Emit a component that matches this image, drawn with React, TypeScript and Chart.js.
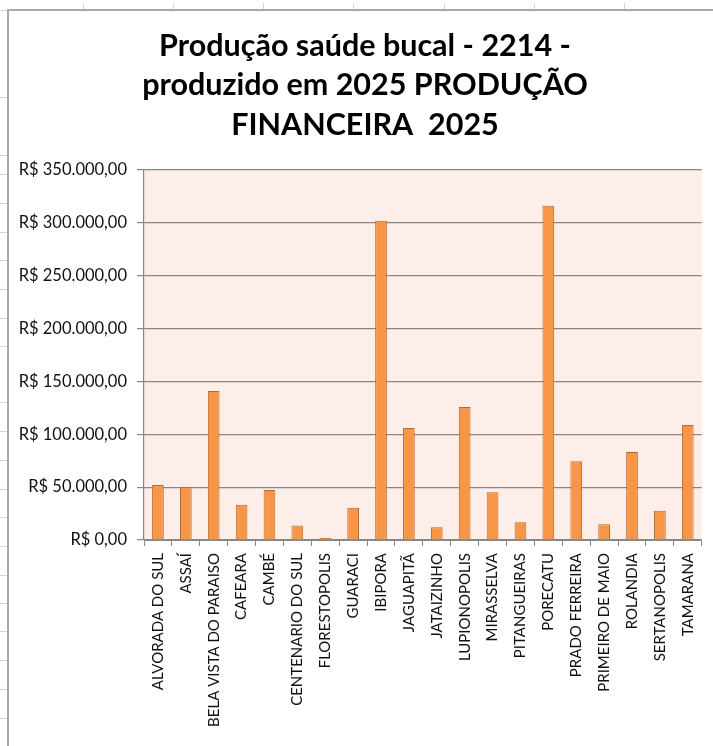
import React, { useEffect, useRef } from 'react';
import { Chart, registerables } from 'chart.js';

Chart.register(...registerables);

const titleLines = ['Produção saúde bucal - 2214 -', 'produzido em 2025 PRODUÇÃO', 'FINANCEIRA  2025'];

const categories = [
  'ALVORADA DO SUL', 'ASSAÍ', 'BELA VISTA DO PARAISO', 'CAFEARA', 'CAMBÉ',
  'CENTENARIO DO SUL', 'FLORESTOPOLIS', 'GUARACI', 'IBIPORA', 'JAGUAPITÃ',
  'JATAIZINHO', 'LUPIONOPOLIS', 'MIRASSELVA', 'PITANGUEIRAS', 'PORECATU',
  'PRADO FERREIRA', 'PRIMEIRO DE MAIO', 'ROLANDIA', 'SERTANOPOLIS', 'TAMARANA',
];

const values = [
  52000, 50000, 141000, 33400, 47300,
  13600, 2000, 30600, 302000, 105900,
  12000, 125800, 45100, 16700, 316200,
  74400, 14800, 83200, 27700, 108800,
];

const yMin = 0;
const yMax = 350000;
const yStep = 50000;

function formatBRL(v: number): string {
  const s = Math.round(v).toString().replace(/\B(?=(\d{3})+(?!\d))/g, '.');
  return 'R$ ' + s + ',00';
}

const plotBg = {
  id: 'plotBg',
  afterLayout(chart: any) {
    // widen the y-axis label clip area to the canvas edge
    if (chart.scales.y) chart.scales.y.left = 0;
  },
  beforeDraw(chart: any) {
    const { ctx, chartArea } = chart;
    ctx.save();
    ctx.fillStyle = '#FDEEEA';
    ctx.fillRect(chartArea.left, chartArea.top, chartArea.width, chartArea.height);
    ctx.restore();
  },
};

const leftRows = [97, 155, 174, 203, 232, 260, 289, 318, 346, 402, 431, 460, 489, 517, 546, 575, 603, 631, 660, 689, 718];
const topCols = [83, 173, 263, 353, 444, 534, 624];

export default function App() {
  const ref = useRef<HTMLCanvasElement>(null);

  useEffect(() => {
    if (!ref.current) return;
    const gridColor = '#878787';
    const chart = new Chart(ref.current, {
      type: 'bar',
      data: {
        labels: categories,
        datasets: [
          {
            data: values,
            backgroundColor: '#F79646',
            borderColor: '#B8692B',
            borderWidth: 1,
            barPercentage: 0.42,
            categoryPercentage: 1,
          },
        ],
      },
      options: {
        responsive: false,
        animation: false,
        devicePixelRatio: 1,
        layout: { padding: { left: 17, right: 9, top: 0, bottom: 0 } },
        plugins: {
          legend: { display: false },
          tooltip: { enabled: false },
          title: {
            display: true,
            text: titleLines,
            color: '#000',
            font: { family: 'Lato', size: 30.5, weight: 'bold', lineHeight: 1.3 },
            padding: { top: 15, bottom: 25 },
          },
        },
        scales: {
          x: {
            grid: { display: true, drawOnChartArea: false, offset: true, tickLength: 6, color: gridColor },
            border: { color: gridColor },
            ticks: {
              autoSkip: false,
              minRotation: 90,
              maxRotation: 90,
              padding: 7,
              color: '#111',
              font: { family: 'Lato', size: 15 },
            },
            afterFit(scale: any) {
              scale.height = 206;
            },
          },
          y: {
            min: yMin,
            max: yMax,
            grid: { color: gridColor, tickLength: 7, lineWidth: 1.2 },
            border: { color: gridColor, width: 1.2 },
            ticks: {
              stepSize: yStep,
              padding: 10,
              color: '#111',
              font: { family: 'Lato', size: 16.5 },
              callback: (v: any) => formatBRL(Number(v)),
            },
            afterFit(scale: any) {
              scale.width = 118;
            },
          },
        },
      },
      plugins: [plotBg],
    });
    return () => chart.destroy();
  }, []);

  return (
    <div style={{ position: 'fixed', left: 0, top: 0, width: 713, height: 746, background: '#fff', overflow: 'hidden' }}>
      {topCols.map((x) => (
        <div key={'c' + x} style={{ position: 'absolute', left: x, top: 3, width: 1, height: 6, background: '#d6d6d6' }} />
      ))}
      <div style={{ position: 'absolute', left: 0, top: 10, width: 7, height: 1, background: '#d6d6d6' }} />
      {leftRows.map((y) => (
        <div key={'r' + y} style={{ position: 'absolute', left: 0, top: y, width: 7, height: 1, background: '#d6d6d6' }} />
      ))}
      <div style={{ position: 'absolute', left: 7, top: 9, width: 720, height: 760, borderLeft: '2px solid #a8a8a8', borderTop: '2px solid #a8a8a8' }} />
      <canvas ref={ref} width={704} height={735} style={{ position: 'absolute', left: 9, top: 11, width: 704, height: 735 }} />
    </div>
  );
}
